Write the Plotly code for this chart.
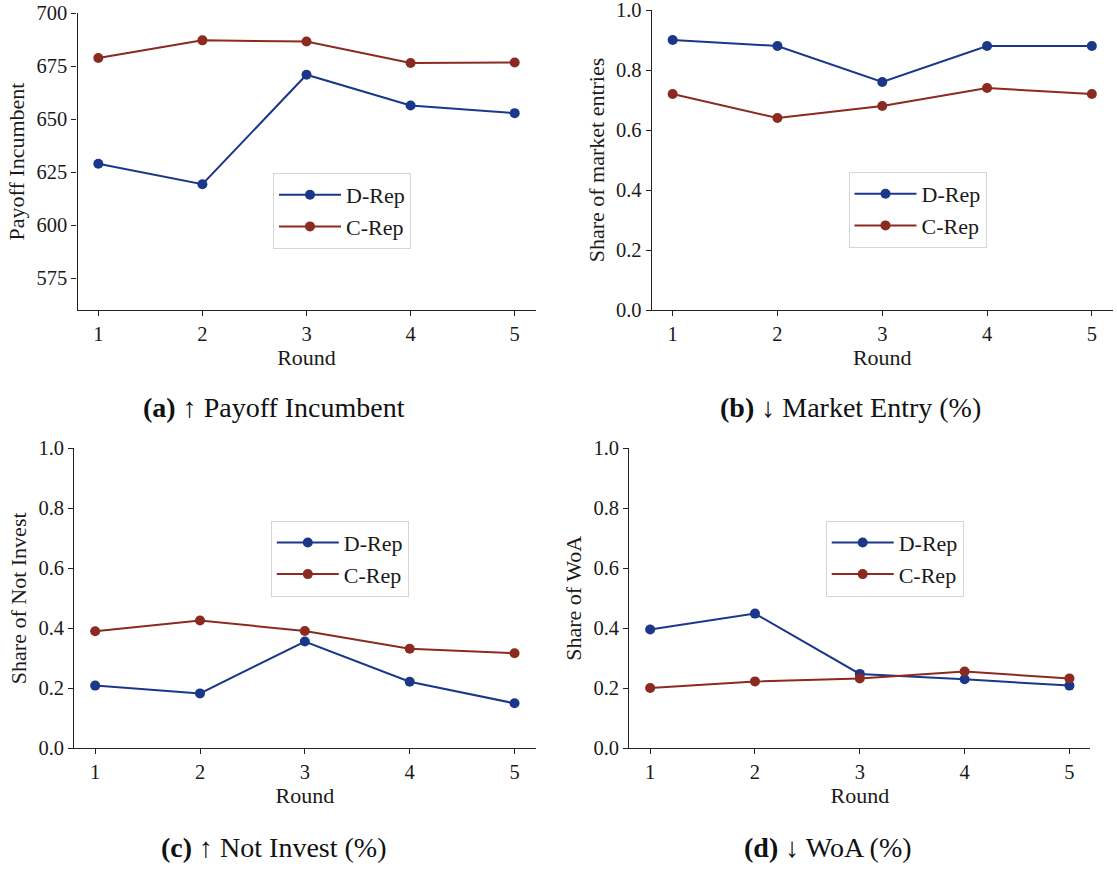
import plotly.graph_objects as go

rounds = [1, 2, 3, 4, 5]

payoff_d = [628.9, 619.3, 670.9, 656.4, 652.8]
payoff_c = [678.8, 687.1, 686.6, 676.4, 676.7]

entry_d = [0.90, 0.88, 0.76, 0.88, 0.88]
entry_c = [0.72, 0.64, 0.68, 0.74, 0.72]

notinv_d = [0.209, 0.183, 0.356, 0.222, 0.150]
notinv_c = [0.390, 0.426, 0.391, 0.332, 0.317]

woa_d = [0.396, 0.449, 0.248, 0.230, 0.209]
woa_c = [0.201, 0.223, 0.233, 0.256, 0.233]

series_names = ["D-Rep", "C-Rep"]
colors = ["#1a378a", "#8b2a20"]

y_titles = ["Payoff Incumbent", "Share of market entries", "Share of Not Invest", "Share of WoA"]
captions = ["<b>(a)</b> \u2191 Payoff Incumbent", "<b>(b)</b> \u2193 Market Entry (%)",
            "<b>(c)</b> \u2191 Not Invest (%)", "<b>(d)</b> \u2193 WoA (%)"]
payoff_ticks = [575, 600, 625, 650, 675, 700]
share_ticks = [0.0, 0.2, 0.4, 0.6, 0.8, 1.0]

W, H = 1117, 869
FONT = "Liberation Serif"
TXT = "#1a1a1a"


def px(v):
    return v / W


def py(v):
    return 1 - v / H


panels = [
    dict(d=payoff_d, c=payoff_c, xd=[77.5, 535.5], yd=[13.0, 310], yr=[560, 700], ticks=payoff_ticks, fmt="d",
         leg=(273, 173), cap=(274, 407)),
    dict(d=entry_d, c=entry_c, xd=[651.7, 1112.8], yd=[10, 310], yr=[0, 1], ticks=share_ticks, fmt=".1f",
         leg=(848.5, 172), cap=(850, 407)),
    dict(d=notinv_d, c=notinv_c, xd=[74.2, 535.5], yd=[448.3, 748.3], yr=[0, 1], ticks=share_ticks, fmt=".1f",
         leg=(270.8, 520.7), cap=(273, 847)),
    dict(d=woa_d, c=woa_c, xd=[629.2, 1090.4], yd=[448.3, 748.3], yr=[0, 1], ticks=share_ticks, fmt=".1f",
         leg=(825.7, 520.7), cap=(828, 847)),
]

fig = go.Figure()
layout = {}
annotations = []
for i, p in enumerate(panels):
    k = "" if i == 0 else str(i + 1)
    legname = "legend" if i == 0 else f"legend{i + 1}"
    for name, vals, col in zip(series_names, [p["d"], p["c"]], colors):
        fig.add_trace(go.Scatter(
            x=rounds, y=vals, name=name, mode="lines+markers",
            line=dict(color=col, width=2), marker=dict(color=col, size=10),
            xaxis="x" + k, yaxis="y" + k, legend=legname, showlegend=True,
        ))
    layout["xaxis" + k] = dict(
        domain=[px(p["xd"][0]), px(p["xd"][1])], range=[0.8, 5.2], anchor="y" + k, automargin=False,
        tickvals=rounds, ticks="outside", ticklen=5, tickwidth=1, tickcolor="#222",
        showline=True, linecolor="#222", linewidth=1.2, showgrid=False, zeroline=False,
        ticklabeloverflow="allow",
        tickfont=dict(family=FONT, size=20.5, color=TXT),
        title=dict(text="Round", font=dict(family=FONT, size=22, color=TXT), standoff=3),
    )
    layout["yaxis" + k] = dict(
        domain=[py(p["yd"][1]), py(p["yd"][0])], range=p["yr"], anchor="x" + k, automargin=False,
        tickvals=p["ticks"], tickformat=p["fmt"], ticks="outside", ticklen=5, tickwidth=1, tickcolor="#222",
        showline=True, linecolor="#222", linewidth=1.2, showgrid=False, zeroline=False,
        ticklabeloverflow="allow",
        tickfont=dict(family=FONT, size=20.5, color=TXT),
        title=dict(text=y_titles[i], font=dict(family=FONT, size=22, color=TXT), standoff=5),
    )
    layout[legname] = dict(
        x=px(p["leg"][0]), y=py(p["leg"][1]), xanchor="left", yanchor="top",
        bgcolor="white", bordercolor="#d5d5d5", borderwidth=1,
        font=dict(family=FONT, size=22, color=TXT), itemwidth=62, tracegroupgap=0,
    )
    annotations.append(dict(
        text=captions[i], x=px(p["cap"][0]), y=py(p["cap"][1]), xref="paper", yref="paper",
        xanchor="center", yanchor="middle", showarrow=False,
        font=dict(family=FONT, size=28, color="#111"),
    ))

fig.update_layout(
    width=W, height=H, margin=dict(l=0, r=0, t=0, b=0, autoexpand=False),
    paper_bgcolor="white", plot_bgcolor="white",
    annotations=annotations, **layout,
)
fig.write_html("out.html", config={"displayModeBar": False},
               post_script="document.body.style.margin='0';")
